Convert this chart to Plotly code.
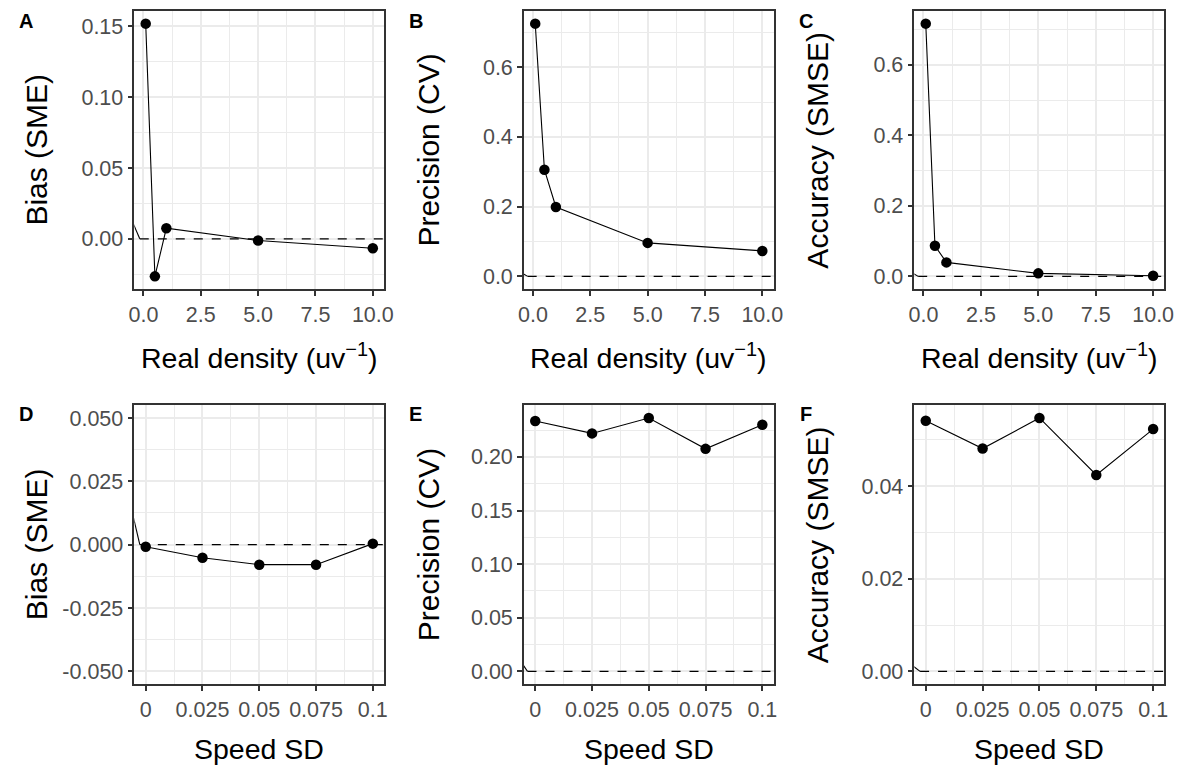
import plotly.graph_objects as go

# ---------------- data ----------------
density = [0.1, 0.5, 1, 5, 10]
speed_sd = [0, 0.025, 0.05, 0.075, 0.1]

bias_density = [0.152, -0.0265, 0.0075, -0.0012, -0.0066]
precision_density = [0.725, 0.306, 0.199, 0.096, 0.073]
accuracy_density = [0.717, 0.0867, 0.0396, 0.0085, 0.0017]

bias_speed = [-0.0008, -0.0052, -0.0079, -0.0079, 0.0004]
precision_speed = [0.2334, 0.2219, 0.2363, 0.2075, 0.2300]
accuracy_speed = [0.0541, 0.0481, 0.0547, 0.0424, 0.0523]

panel_letters = ["A", "B", "C", "D", "E", "F"]
y_titles = ["Bias (SME)", "Precision (CV)", "Accuracy (SMSE)",
            "Bias (SME)", "Precision (CV)", "Accuracy (SMSE)"]
x_title_density = "Real density (uv<sup>\u22121</sup>)"
x_title_speed = "Speed SD"

density_ticks = [0, 2.5, 5, 7.5, 10]
density_ticktext = ["0.0", "2.5", "5.0", "7.5", "10.0"]
speed_ticks = [0, 0.025, 0.05, 0.075, 0.1]
speed_ticktext = ["0", "0.025", "0.05", "0.075", "0.1"]

y_ticks = [
    [0.0, 0.05, 0.10, 0.15],
    [0.0, 0.2, 0.4, 0.6],
    [0.0, 0.2, 0.4, 0.6],
    [-0.05, -0.025, 0.0, 0.025, 0.05],
    [0.0, 0.05, 0.10, 0.15, 0.20],
    [0.0, 0.02, 0.04],
]
y_ticktext = [
    ["0.00", "0.05", "0.10", "0.15"],
    ["0.0", "0.2", "0.4", "0.6"],
    ["0.0", "0.2", "0.4", "0.6"],
    ["-0.050", "-0.025", "0.000", "0.025", "0.050"],
    ["0.00", "0.05", "0.10", "0.15", "0.20"],
    ["0.00", "0.02", "0.04"],
]
y_minor = [
    [-0.025, 0.025, 0.075, 0.125],
    [0.1, 0.3, 0.5, 0.7],
    [0.1, 0.3, 0.5, 0.7],
    [-0.0375, -0.0125, 0.0125, 0.0375],
    [0.025, 0.075, 0.125, 0.175, 0.225],
    [0.01, 0.03, 0.05],
]
y_limits = [None, None, None, (-0.05, 0.05), None, None]

# start of the dashed zero reference line and the short stub entering it
ref_start_x = [-0.16, -0.23, -0.23, -0.0026, -0.0034, -0.0025]
stub_x = [-0.45, -0.50, -0.50, -0.0060, -0.0060, -0.0055]
stub_y = [0.011, 0.010, 0.010, 0.0130, 0.0080, 0.0011]

# ---------------- layout geometry (pixels) ----------------
W, H = 1189, 765
col_x = [(130, 383), (524.5, 777.5), (920, 1173.3)]
row_y = [(11, 289), (405.3, 684)]

FONT = "Liberation Sans, Arial, Helvetica, sans-serif"
GRID = "#EBEBEB"
DARK = "#333333"

fig = go.Figure()
annotations = []

series = [
    (density, bias_density), (density, precision_density), (density, accuracy_density),
    (speed_sd, bias_speed), (speed_sd, precision_speed), (speed_sd, accuracy_speed),
]


def expand(lo, hi, f=0.05):
    d = (hi - lo) * f
    return [lo - d, hi + d]


for i, (xs, ys) in enumerate(series):
    r, c = divmod(i, 3)
    ax = "" if i == 0 else str(i + 1)
    xref, yref = "x" + ax, "y" + ax
    x0p, x1p = col_x[c]
    y0p, y1p = row_y[r]
    is_density = r == 0

    xr = expand(min(xs), max(xs))
    if y_limits[i] is not None:
        yr = expand(*y_limits[i])
    else:
        yr = expand(min(ys + [0]), max(ys + [0]))

    # dashed zero line
    fig.add_trace(go.Scatter(x=[ref_start_x[i], xr[1] + (xr[1] - xr[0])], y=[0, 0],
                             mode="lines", line=dict(color="black", width=1.1, dash="dash"),
                             xaxis=xref, yaxis=yref, showlegend=False, hoverinfo="skip"))
    # small stub at the left edge
    fig.add_trace(go.Scatter(x=[stub_x[i], ref_start_x[i]], y=[stub_y[i], 0],
                             mode="lines", line=dict(color="black", width=1.1),
                             xaxis=xref, yaxis=yref, showlegend=False, hoverinfo="skip"))
    # data
    fig.add_trace(go.Scatter(x=xs, y=ys, mode="lines+markers",
                             line=dict(color="black", width=1.1),
                             marker=dict(color="black", size=10.5),
                             xaxis=xref, yaxis=yref, showlegend=False, cliponaxis=False))

    if is_density:
        xmajor, xtext = density_ticks, density_ticktext
        xminor = [1.25, 3.75, 6.25, 8.75]
    else:
        xmajor, xtext = speed_ticks, speed_ticktext
        xminor = [0.0125, 0.0375, 0.0625, 0.0875]

    common = dict(showline=True, mirror=True, linecolor=DARK, linewidth=1.5,
                  ticks="outside", ticklen=5, tickwidth=1.5, tickcolor=DARK,
                  showgrid=True, gridcolor=GRID, gridwidth=1.6, zeroline=False,
                  tickfont=dict(family=FONT, size=21.5, color="#4D4D4D"),
                  tickmode="array")
    fig.layout["xaxis" + ax] = dict(
        common, domain=[x0p / W, x1p / W], range=xr, anchor=yref,
        tickvals=xmajor, ticktext=xtext,
        minor=dict(tickmode="array", tickvals=xminor, showgrid=True,
                   gridcolor=GRID, gridwidth=0.8, ticks=""))
    fig.layout["yaxis" + ax] = dict(
        common, domain=[1 - y1p / H, 1 - y0p / H], range=yr, anchor=xref,
        tickvals=y_ticks[i], ticktext=y_ticktext[i],
        minor=dict(tickmode="array", tickvals=y_minor[i], showgrid=True,
                   gridcolor=GRID, gridwidth=0.8, ticks=""))

    # axis titles
    annotations.append(dict(
        text=x_title_density if is_density else x_title_speed,
        x=(x0p + x1p) / 2 / W, y=1 - (y1p + [67, 65][r]) / H, xref="paper", yref="paper",
        xanchor="center", yanchor="middle", showarrow=False,
        font=dict(family=FONT, size=28.5, color="black")))
    ytitle_x = [31, 428, 822][c]
    annotations.append(dict(
        text=y_titles[i], x=ytitle_x / W, y=1 - (y0p + y1p) / 2 / H,
        xref="paper", yref="paper", xanchor="center", yanchor="middle",
        textangle=-90, showarrow=False,
        font=dict(family=FONT, size=30, color="black")))
    # panel letters
    lx = [20, 415, 810][c]
    ly = [21, 414][r]
    annotations.append(dict(
        text="<b>%s</b>" % panel_letters[i], x=lx / W, y=1 - ly / H,
        xref="paper", yref="paper", xanchor="center", yanchor="middle",
        showarrow=False, font=dict(family=FONT, size=20, color="black")))

fig.update_layout(width=W, height=H, margin=dict(l=0, r=0, t=0, b=0),
                  paper_bgcolor="white", plot_bgcolor="white",
                  annotations=annotations, showlegend=False)

fig.write_html("out.html",
               config={"displayModeBar": False},
               post_script="document.body.style.margin='0px';"
                           "document.body.style.overflow='hidden';")
